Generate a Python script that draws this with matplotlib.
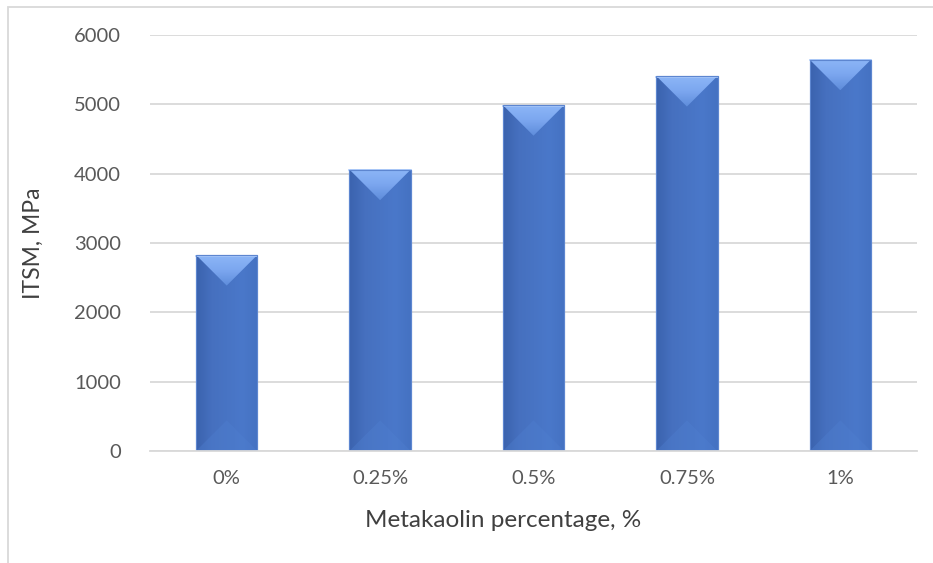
import numpy as np
import matplotlib.pyplot as plt
from matplotlib.patches import Polygon, Rectangle
from matplotlib.colors import LinearSegmentedColormap

categories = ['0%', '0.25%', '0.5%', '0.75%', '1%']
itsm = [2828, 4060, 4990, 5410, 5645]
yticks = [0, 1000, 2000, 3000, 4000, 5000, 6000]

W, H = 933, 563
fig = plt.figure(figsize=(W / 100, H / 100), dpi=100)
plt.rcParams['font.family'] = ['Lato', 'DejaVu Sans']

left, right = 150 / W, 917 / W
bottom, top = 1 - 451 / H, 1 - 35 / H
ax = fig.add_axes([left, bottom, right - left, top - bottom])
ax.set_xlim(-0.5, len(categories) - 0.5)
ax.set_ylim(0, 6000)

# outer chart frame
fig.patches.append(Rectangle((8 / W, -0.1), 1.2, 1 - 7 / H + 0.1, transform=fig.transFigure,
                             fill=False, edgecolor='#d9d9d9', linewidth=1.3, zorder=0))

ax.set_yticks(yticks)
ax.yaxis.grid(True, color='#d9d9d9', linewidth=1.3)
ax.set_axisbelow(True)
for s in ['top', 'right', 'left']:
    ax.spines[s].set_visible(False)
ax.spines['bottom'].set_color('#d9d9d9')
ax.spines['bottom'].set_linewidth(1.3)
ax.tick_params(axis='both', length=0, colors='#595959', labelsize=14.5)
ax.tick_params(axis='y', pad=21)
ax.tick_params(axis='x', pad=14)

x = np.arange(len(categories))
bw = 0.4
bars = ax.bar(x, itsm, width=bw, color='#4472c4', edgecolor='#5d86d0', linewidth=0.8, zorder=2)
ax.set_xticks(x)
ax.set_xticklabels(categories)

# pixel -> data for the bevel depth
ax_w_px = (right - left) * W
ax_h_px = (top - bottom) * H
half_px = bw / 2 * ax_w_px / len(categories)
depth = half_px * 6000 / ax_h_px

side = LinearSegmentedColormap.from_list('side', ['#3b63ae', '#4670bf', '#4874c4', '#4a78ca', '#4572c2'])
topc = LinearSegmentedColormap.from_list('top', ['#5f8ddb', '#7ba6ef', '#8cb6f7'])
grad = np.linspace(0, 1, 64).reshape(1, -1)
vg = np.linspace(1, 0, 32).reshape(-1, 1)
for b, v in zip(bars, itsm):
    x0 = b.get_x()
    x1 = x0 + bw
    xc = x0 + bw / 2
    im = ax.imshow(grad, cmap=side, aspect='auto', extent=(x0, x1, 0, v), zorder=2.1)
    im.set_clip_path(b)
    # bottom bevel
    ax.add_patch(Polygon([(x0, 0), (x1, 0), (xc, depth)], closed=True,
                         facecolor='#4f7fd0', edgecolor='none', alpha=0.4, zorder=2.2))
    # top bevel
    tri = Polygon([(x0, v), (x1, v), (xc, v - depth)], closed=True,
                  facecolor='none', edgecolor='none', zorder=2.3)
    ax.add_patch(tri)
    im2 = ax.imshow(vg, cmap=topc, aspect='auto', extent=(x0, x1, v - depth, v), zorder=2.3)
    im2.set_clip_path(tri)
    ax.plot([x0, x1], [v - 0.02 * depth, v - 0.02 * depth], color='#a9c8fa', linewidth=1.2, zorder=2.4)
    ax.add_patch(Rectangle((x0, 0), bw, v, fill=False, edgecolor='#5d86d0', linewidth=0.8, zorder=2.5))

ax.set_ylabel('ITSM, MPa', fontsize=16.5, color='#404040')
ax.set_xlabel('Metakaolin percentage, %', fontsize=17.5, color='#404040')
ax.yaxis.set_label_coords(-0.139, 0.5)
ax.xaxis.set_label_coords(0.46, -0.143)

fig.savefig('out.png', dpi=100)
